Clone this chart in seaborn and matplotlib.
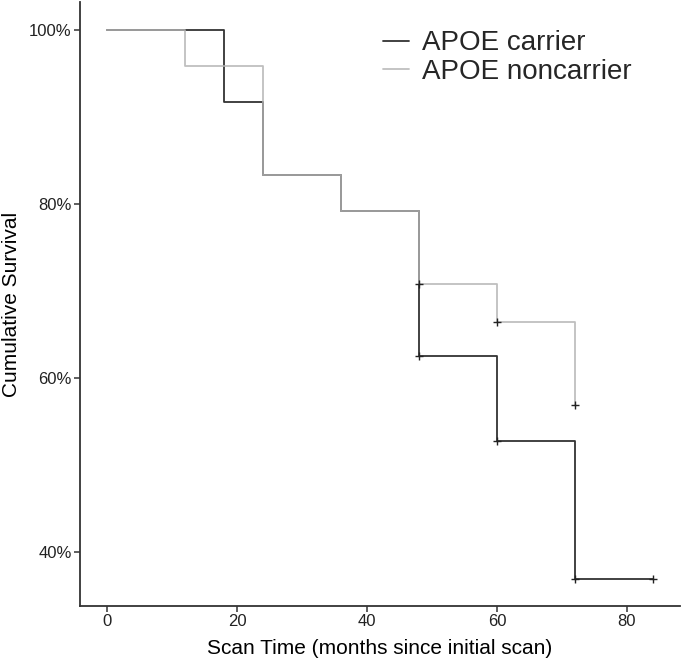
"""Kaplan-Meier style survival curves for APOE carriers vs noncarriers."""
import numpy as np
import pandas as pd
import matplotlib

matplotlib.use("Agg")
import matplotlib.pyplot as plt
import seaborn as sns
from matplotlib.ticker import PercentFormatter

# Step points (months, survival %).
carrier_months = [0, 18, 24, 36, 48, 60, 72, 84]
carrier_surv = [100, 91.7, 83.3, 79.2, 62.5, 52.8, 37.0, 37.0]
noncarrier_months = [0, 12, 24, 36, 48, 60, 72]
noncarrier_surv = [100, 95.8, 83.3, 79.2, 70.8, 66.4, 56.9]

# Censoring marks.
carrier_cens_months = [48, 60, 72, 84]
carrier_cens_surv = [62.5, 52.8, 37.0, 37.0]
noncarrier_cens_months = [48, 60, 72]
noncarrier_cens_surv = [70.8, 66.4, 56.9]

groups = ["APOE carrier", "APOE noncarrier"]
colors = {"APOE carrier": "#333333", "APOE noncarrier": "#b4b4b4"}

curves = pd.concat(
    [
        pd.DataFrame({"month": carrier_months, "surv": carrier_surv, "group": groups[0]}),
        pd.DataFrame({"month": noncarrier_months, "surv": noncarrier_surv, "group": groups[1]}),
    ],
    ignore_index=True,
)
censors = pd.DataFrame(
    {
        "month": carrier_cens_months + noncarrier_cens_months,
        "surv": carrier_cens_surv + noncarrier_cens_surv,
    }
)

sns.set_style("white")
plt.rcParams["font.family"] = ["Liberation Sans", "DejaVu Sans"]

fig = plt.figure(figsize=(6.88, 6.62), dpi=100)
ax = fig.add_axes([80 / 688, 0.0846, 600 / 688, 0.912])

# Draw the curves.
for grp in groups:
    sub = curves[curves["group"] == grp]
    sns.lineplot(
        data=sub,
        x="month",
        y="surv",
        drawstyle="steps-post",
        estimator=None,
        color=colors[grp],
        alpha=1.0 if grp == groups[0] else 0.85,
        linewidth=1.3,
        label=grp,
        ax=ax,
    )

# Censoring marks.
sns.scatterplot(
    data=censors,
    x="month",
    y="surv",
    marker="+",
    color="#222222",
    s=40,
    linewidth=1.0,
    ax=ax,
    zorder=5,
)

ax.set_xlim(-4.2, 88.2)
ax.set_ylim(33.85, 103.15)
ax.set_xticks([0, 20, 40, 60, 80])
ax.set_yticks([40, 60, 80, 100])
ax.yaxis.set_major_formatter(PercentFormatter(decimals=0))

ax.set_xlabel("Scan Time (months since initial scan)", fontsize=15,
              color="black", labelpad=7)
ax.set_ylabel("Cumulative Survival", fontsize=15, color="black", labelpad=6)
ax.tick_params(
    axis="both", direction="out", length=4, width=1.1, color="#333333",
    labelsize=12, labelcolor="#222222", pad=2, bottom=True, left=True,
)

# Classic axis appearance.
sns.despine(ax=ax)
for side in ["left", "bottom"]:
    ax.spines[side].set_color("#333333")
    ax.spines[side].set_linewidth(1.3)

ax.legend(
    loc="upper left",
    bbox_to_anchor=(0.520, 0.992),
    bbox_transform=fig.transFigure,
    frameon=False,
    fontsize=20,
    handlelength=0.95,
    handletextpad=0.45,
    labelspacing=0.1,
)

fig.savefig("out.png", dpi=100)
